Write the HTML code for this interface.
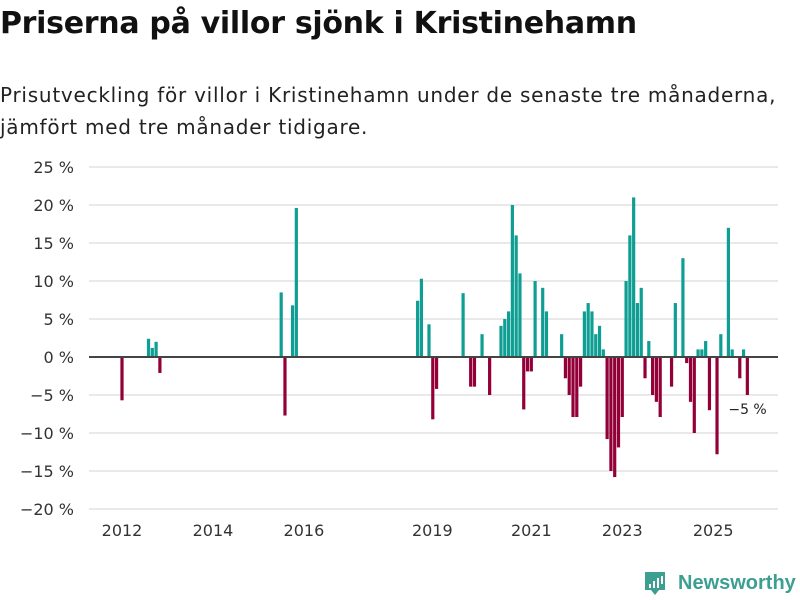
<!DOCTYPE html>
<html><head><meta charset="utf-8"><style>
body{margin:0;background:#fff;font-family:"DejaVu Sans","Liberation Sans",sans-serif;color:#111;}
#wrap{position:relative;width:800px;height:600px;overflow:hidden;}
h1{position:absolute;left:0;top:6px;margin:0;font-size:30px;font-weight:bold;letter-spacing:-0.3px;white-space:nowrap;}
.sub{position:absolute;left:0;top:79px;margin:0;font-size:20px;line-height:32px;color:#222;letter-spacing:0.75px;white-space:nowrap;}
svg{position:absolute;left:0;top:0;}
</style></head><body>
<div id="wrap">
<h1>Priserna på villor sjönk i Kristinehamn</h1>
<p class="sub">Prisutveckling för villor i Kristinehamn under de senaste tre månaderna,<br>jämfört med tre månader tidigare.</p>
<svg id="chart" width="800" height="600"></svg>
</div>
<script>
const monthIndex=[0,7,8,9,10,42,43,45,46,78,79,81,82,83,90,92,93,95,97,100,101,102,103,104,105,106,107,108,109,111,112,116,117,118,119,120,121,122,123,124,125,126,127,128,129,130,131,132,133,134,135,136,137,138,139,140,141,142,145,146,148,149,150,151,152,153,154,155,157,158,160,161,163,164,165];
const changeValues=[-5.7,2.4,1.2,2.0,-2.1,8.5,-7.7,6.8,19.6,7.4,10.3,4.3,-8.2,-4.2,8.4,-3.9,-3.9,3.0,-5.0,4.1,5.0,6.0,20.0,16.0,11.0,-6.9,-1.9,-1.9,10.0,9.1,6.0,3.0,-2.8,-5.0,-7.9,-7.9,-3.9,6.0,7.1,6.0,3.0,4.1,1.0,-10.8,-15.0,-15.8,-11.9,-7.9,10.0,16.0,21.0,7.1,9.1,-2.8,2.1,-5.0,-5.9,-7.9,-3.9,7.1,13.0,-0.8,-5.9,-10.0,1.0,1.0,2.1,-7.0,-12.8,3.0,17.0,1.0,-2.8,1.0,-5.0];
const yTicks=[25,20,15,10,5,0,-5,-10,-15,-20];
const xTickYears=[2012,2014,2016,2019,2021,2023,2025];
const lastLabel="−5 %";

const NS="http://www.w3.org/2000/svg";
const svg=document.getElementById('chart');
const y0=357,pxPerPct=7.6;
function yScale(v){return y0-v*pxPerPct;}
function xScale(m){return 122+m*3.79;}
function mk(t,a){const e=document.createElementNS(NS,t);for(const k in a)e.setAttribute(k,a[k]);svg.appendChild(e);return e;}
yTicks.forEach(v=>{
  const y=yScale(v);
  if(v!==0){const g=mk('line',{x1:89,x2:778,y1:y,y2:y,stroke:'#dcdcdc','stroke-width':1.3});
  
  }
  const t=mk('text',{x:74,y:y+6,'text-anchor':'end','font-size':16,fill:'#333'});
  t.textContent=(v<0?'−'+(-v):v)+' %';
  
  
});
xTickYears.forEach(yr=>{
  const t=mk('text',{x:xScale((yr-2012)*12)-(yr===2019?8:0),y:536,'text-anchor':'middle','font-size':16,fill:'#333'});
  t.textContent=yr;
  
  
});
monthIndex.forEach((m,i)=>{
  const v=changeValues[i];const y=yScale(v);
  const r=mk('rect',{x:xScale(m)-1.6,width:3.2,y:Math.min(y,y0),height:Math.abs(y-y0),fill:v>=0?'#0f9e94':'#930038'});
  
  
});
const z=mk('line',{x1:89,x2:778,y1:y0,y2:y0,stroke:'#444','stroke-width':2});


const lm=monthIndex[monthIndex.length-1],lv=changeValues[changeValues.length-1];
const a=mk('text',{x:xScale(lm)-19,y:yScale(lv)+19,'font-size':14,fill:'#222'});
a.textContent=lastLabel;


const lg=mk('g',{});


const b=document.createElementNS(NS,'path');b.setAttribute('d','M645 572 h20 v18 h-6 l-4 5 l-4 -5 h-6 z');b.setAttribute('fill','#3d9e92');lg.appendChild(b);
[[649,584,2,4],[653,581,2,7],[657,578,2,10],[661,576,2,8]].forEach(d=>{const r=document.createElementNS(NS,'rect');r.setAttribute('x',d[0]);r.setAttribute('y',d[1]);r.setAttribute('width',d[2]);r.setAttribute('height',d[3]);r.setAttribute('fill','#fff');lg.appendChild(r);});
const lt=document.createElementNS(NS,'text');lt.setAttribute('x',678);lt.setAttribute('y',589);lt.setAttribute('font-size',20);lt.setAttribute('font-weight','bold');lt.setAttribute('font-family','Liberation Sans, sans-serif');lt.setAttribute('fill','#3d9e92');lt.textContent='Newsworthy';lg.appendChild(lt);
</script>
</body></html>
